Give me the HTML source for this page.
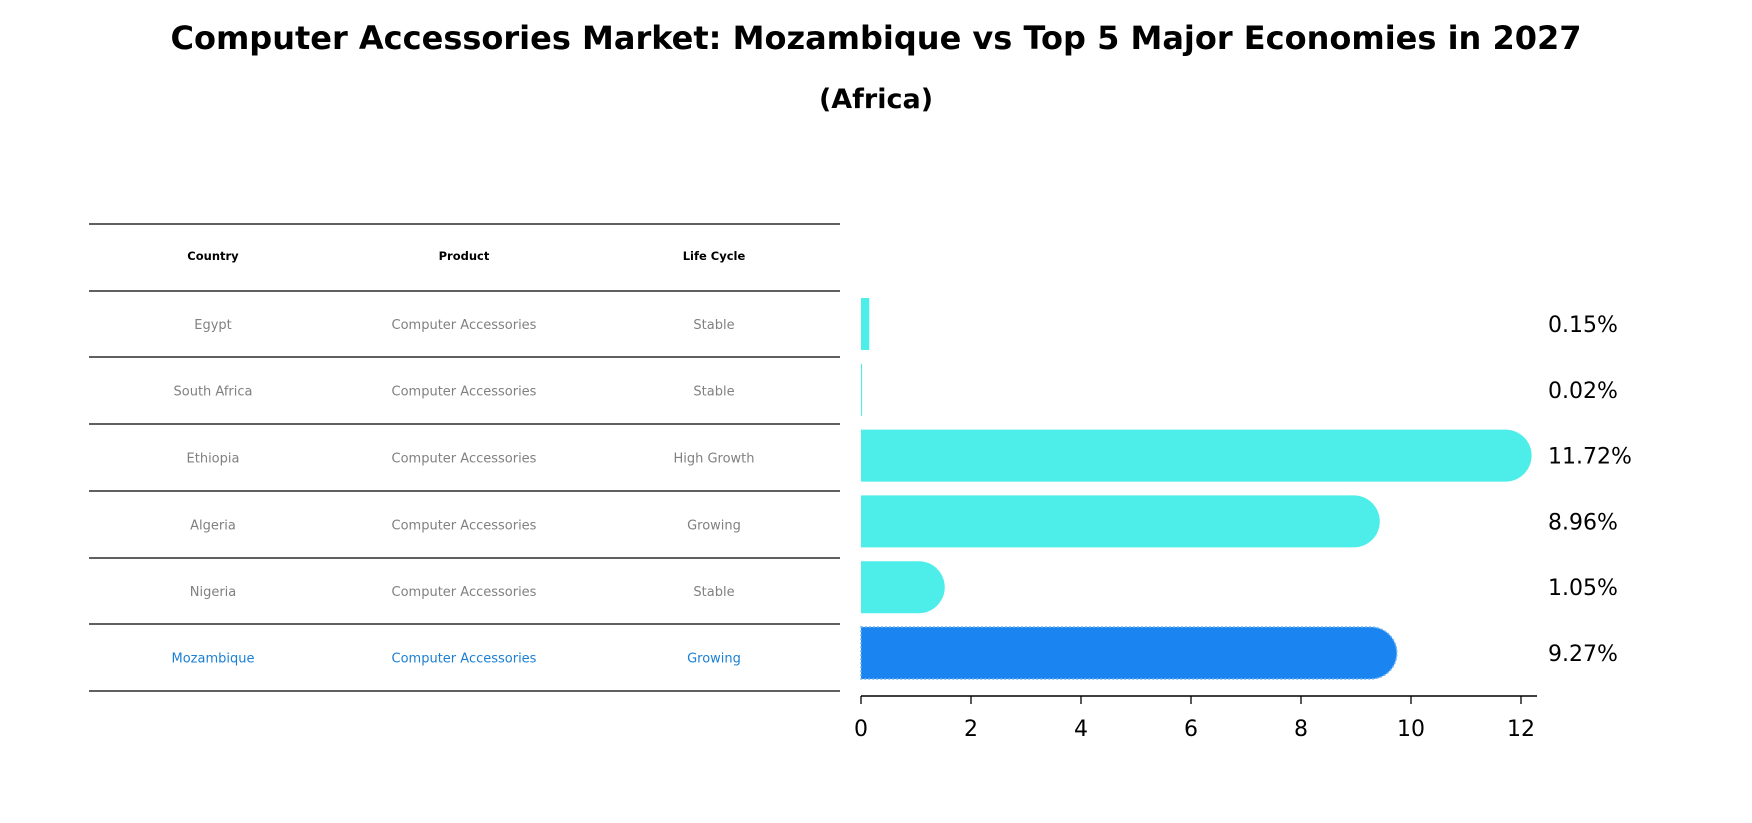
<!DOCTYPE html>
<html><head><meta charset="utf-8"><style>
body{margin:0;background:#fff;}
svg{display:block;font-family:"DejaVu Sans","Liberation Sans",sans-serif;}
</style></head><body>
<svg id="chart" width="1752" height="823" viewBox="0 0 1752 823">
<text x="876" y="49" text-anchor="middle" font-size="32" font-weight="bold">Computer Accessories Market: Mozambique vs Top 5 Major Economies in 2027</text>
<text x="876" y="108" text-anchor="middle" font-size="27" font-weight="bold">(Africa)</text>
<g id="table"></g>
<g id="bars"></g>
<g id="axis"></g>
</svg>
<script>
const countries=["Egypt","South Africa","Ethiopia","Algeria","Nigeria","Mozambique"];
const products=["Computer Accessories","Computer Accessories","Computer Accessories","Computer Accessories","Computer Accessories","Computer Accessories"];
const lifecycles=["Stable","Stable","High Growth","Growing","Stable","Growing"];
const values=[0.15,0.02,11.72,8.96,1.05,9.27];
const valueLabels=["0.15%","0.02%","11.72%","8.96%","1.05%","9.27%"];
const ticks=[0,2,4,6,8,10,12];

const NS="http://www.w3.org/2000/svg";
function mk(tag,attrs,parent){const e=document.createElementNS(NS,tag);for(const k in attrs)e.setAttribute(k,attrs[k]);parent.appendChild(e);return e;}
const x0=861,unit=55;
const xs=v=>x0+v*unit;
const rowY=i=>324+i*65.8;
const bh=52;

const tbl=document.getElementById('table');
const lines=[224,291,357,424,491,558,624,691];
lines.forEach((y,i)=>{const l=mk('line',{x1:89,x2:840,y1:y,y2:y,stroke:'#000','stroke-width':1.2},tbl);

});
const colX=[213,464,714];
["Country","Product","Life Cycle"].forEach((h,i)=>{const t=mk('text',{x:colX[i],y:260,'text-anchor':'middle','font-size':11.5,'font-weight':'bold'},tbl);t.textContent=h;

});
countries.forEach((c,i)=>{
 const y=(lines[i+1]+lines[i+2])/2+5;
 const col=i===countries.length-1?'#1a7fd4':'#808080';
 [c,products[i],lifecycles[i]].forEach((s,j)=>{const t=mk('text',{x:colX[j],y:y,'text-anchor':'middle','font-size':13,fill:col},tbl);t.textContent=s;
 
 });
});

const bg=document.getElementById('bars');
values.forEach((v,i)=>{
 const cy=rowY(i),top=cy-bh/2,xe=xs(v),r=bh/2;
 const color=i===values.length-1?'#1a85f0':'#4dedea';
 let d;
 if(v>0.5){d=`M${x0},${top} H${xe} A${r},${r} 0 0 1 ${xe},${top+bh} H${x0} Z`;}
 else{const w=Math.max(xe-x0,1);d=`M${x0},${top} h${w} v${bh} h${-w} Z`;}
 const p=mk('path',{d:d,fill:color},bg);
 if(i===values.length-1){p.setAttribute('stroke','#6fb4f5');p.setAttribute('stroke-dasharray','2 2');p.setAttribute('stroke-width','1.5');}
 
 
 const t=mk('text',{x:1548,y:cy+8,'font-size':22},bg);t.textContent=valueLabels[i];
 
 
});

const ax=document.getElementById('axis');
const al=mk('line',{x1:x0,x2:1537,y1:696,y2:696,stroke:'#000','stroke-width':1.5},ax);


ticks.forEach(t=>{const x=xs(t);
 const tk=mk('line',{x1:x,x2:x,y1:696,y2:704,stroke:'#000','stroke-width':1.3},ax);
 
 
 const tx=mk('text',{x:x,y:736,'text-anchor':'middle','font-size':22},ax);tx.textContent=t;
 
 });
</script>
</body></html>
